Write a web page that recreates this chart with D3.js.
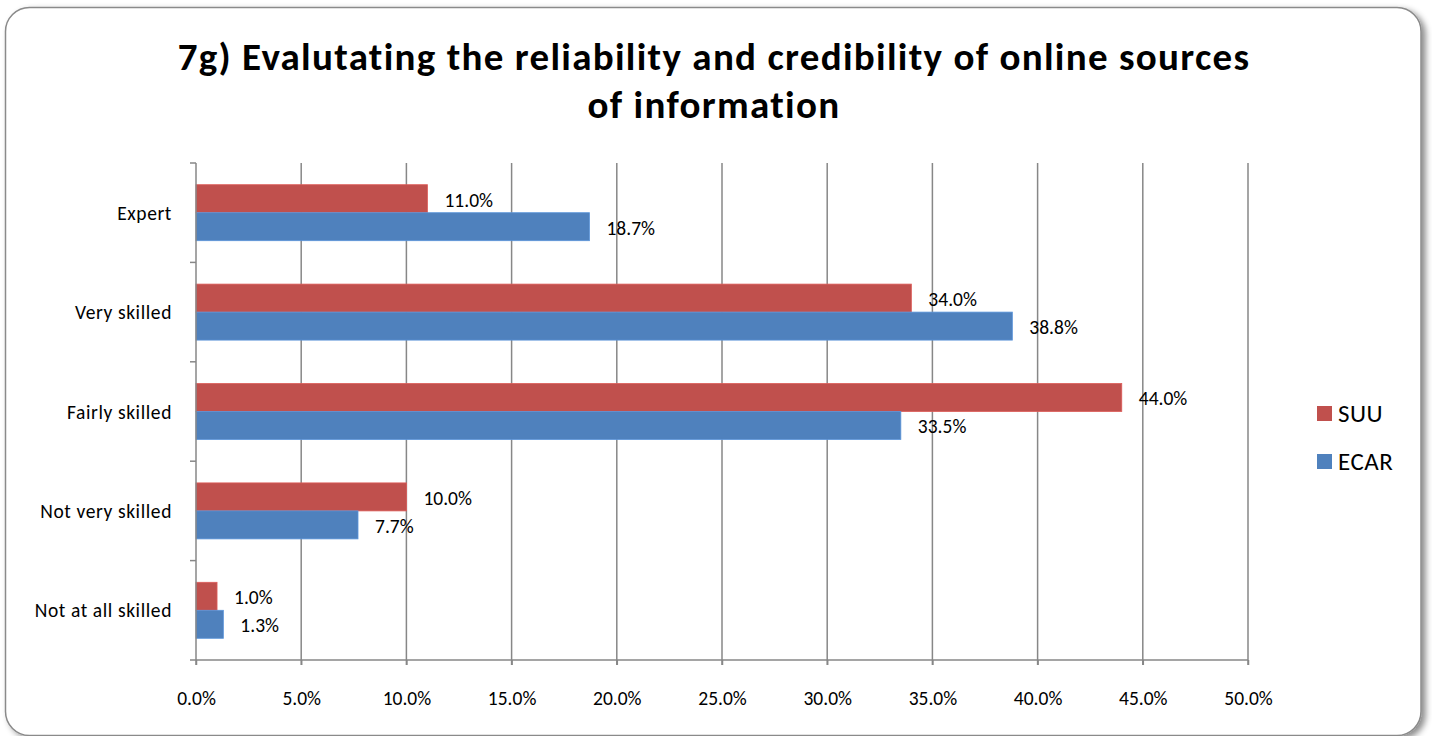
<!DOCTYPE html>
<html>
<head>
<meta charset="utf-8">
<script src="https://cdn.jsdelivr.net/npm/d3@7"></script>
<style>
  body { margin: 0; background: #fff; }
  text { font-family: Carlito, Calibri, Lato, "Open Sans", sans-serif; fill: #000; }
</style>
</head>
<body>
<svg id="chart" width="1432" height="736"></svg>
<script>
let categories = ['Expert', 'Very skilled', 'Fairly skilled', 'Not very skilled', 'Not at all skilled'];
let series_names = ['SUU', 'ECAR'];
let suu_values = [11.0, 34.0, 44.0, 10.0, 1.0];
let ecar_values = [18.7, 38.8, 33.5, 7.7, 1.3];
let x_ticks = [0, 5, 10, 15, 20, 25, 30, 35, 40, 45, 50];
let title_lines = ['7g) Evalutating the reliability and credibility of online sources', 'of information'];

let colors = ['#c0504d', '#4f81bd'];
let grid_color = '#878787';
let plot = {left: 196, right: 1248, top: 163, bottom: 660};
let label_font = 19.5;

let svg = d3.select('#chart');

// frame with shadow
let defs = svg.append('defs');
let shadow = defs.append('filter').attr('id', 'shadow')
	.attr('x', '-5%').attr('y', '-5%').attr('width', '110%').attr('height', '110%');
shadow.append('feDropShadow')
	.attr('dx', 4).attr('dy', 3).attr('stdDeviation', 3)
	.attr('flood-color', '#000').attr('flood-opacity', 0.45);

svg.append('rect')
	.attr('x', 5.5).attr('y', 7.5)
	.attr('width', 1415.5).attr('height', 728)
	.attr('rx', 24).attr('ry', 24)
	.attr('fill', '#fff')
	.attr('stroke', '#8a8a8a')
	.attr('stroke-width', 1.5)
	.attr('filter', 'url(#shadow)');

// title
svg.append('text')
	.attr('text-anchor', 'middle')
	.attr('font-size', 39)
	.attr('font-weight', 'bold')
	.attr('letter-spacing', 1.3)
	.selectAll('tspan')
	.data(title_lines)
	.enter().append('tspan')
	.attr('x', 714)
	.attr('y', (d, i) => 70 + i * 48)
	.text(d => d);

let x = d3.scaleLinear()
	.domain([0, 50])
	.range([plot.left, plot.right]);

let y = d3.scaleBand()
	.domain(categories)
	.range([plot.top, plot.bottom])
	.paddingInner(0)
	.paddingOuter(0);

let inner = d3.scaleBand()
	.domain(series_names)
	.range([0, y.bandwidth()])
	.paddingInner(0)
	.paddingOuter(0.775);

// gridlines
svg.append('g')
	.selectAll('line')
	.data(x_ticks.slice(1))
	.enter().append('line')
	.attr('x1', d => x(d)).attr('x2', d => x(d))
	.attr('y1', plot.top).attr('y2', plot.bottom + 5)
	.attr('stroke', grid_color)
	.attr('stroke-width', 1.5);

// bars
let rows = categories.map((c, i) => ({cat: c, vals: [suu_values[i], ecar_values[i]]}));

let groups = svg.append('g')
	.selectAll('g')
	.data(rows)
	.enter().append('g')
	.attr('transform', d => `translate(0, ${y(d.cat)})`);

groups.selectAll('rect')
	.data(d => d.vals.map((v, j) => ({name: series_names[j], value: v, j: j})))
	.enter().append('rect')
	.attr('x', x(0))
	.attr('y', d => inner(d.name))
	.attr('width', d => x(d.value) - x(0))
	.attr('height', inner.bandwidth())
	.attr('fill', d => colors[d.j])
	.attr('stroke', d => d3.color(colors[d.j]).brighter(0.4))
	.attr('stroke-width', 0.8);

groups.selectAll('.value-label')
	.data(d => d.vals.map((v, j) => ({name: series_names[j], value: v, j: j})))
	.enter().append('text')
	.attr('class', 'value-label')
	.attr('x', d => x(d.value) + 17)
	.attr('y', d => inner(d.name) + inner.bandwidth() / 2 + 8)
	.attr('font-size', label_font)
	.text(d => d.value.toFixed(1) + '%');

// x axis
let x_axis = svg.append('g')
	.attr('transform', `translate(0, ${plot.bottom})`)
	.call(d3.axisBottom(x).tickValues(x_ticks).tickSize(5).tickFormat(d => d.toFixed(1) + '%'));
x_axis.select('.domain').attr('stroke', grid_color).attr('stroke-width', 1.5)
	.attr('d', `M${plot.left},0H${plot.right}`);
x_axis.selectAll('.tick line').attr('stroke', grid_color).attr('stroke-width', 1.5);
x_axis.selectAll('.tick text')
	.attr('font-size', label_font)
	.attr('font-family', 'Carlito, Calibri, Lato, "Open Sans", sans-serif')
	.attr('fill', '#000')
	.attr('dy', 0)
	.attr('y', 45);

// y axis
let y_axis = svg.append('g')
	.attr('transform', `translate(${plot.left}, 0)`);
y_axis.append('line')
	.attr('x1', 0).attr('x2', 0)
	.attr('y1', plot.top).attr('y2', plot.bottom + 5)
	.attr('stroke', grid_color).attr('stroke-width', 1.5);
y_axis.selectAll('.ytick')
	.data(d3.range(categories.length + 1))
	.enter().append('line')
	.attr('x1', -6).attr('x2', 0)
	.attr('y1', i => plot.top + i * y.step())
	.attr('y2', i => plot.top + i * y.step())
	.attr('stroke', grid_color).attr('stroke-width', 1.5);
y_axis.selectAll('.ylabel')
	.data(categories)
	.enter().append('text')
	.attr('x', -24)
	.attr('y', d => y(d) + y.bandwidth() / 2 + 7)
	.attr('text-anchor', 'end')
	.attr('font-size', label_font)
	.attr('letter-spacing', 0.6)
	.text(d => d);

// legend
let legend = svg.append('g')
	.selectAll('g')
	.data(series_names)
	.enter().append('g')
	.attr('transform', (d, i) => `translate(1317, ${406 + i * 48})`);
legend.append('rect')
	.attr('width', 15).attr('height', 15)
	.attr('fill', (d, i) => colors[i]);
legend.append('text')
	.attr('x', 21).attr('y', 16)
	.attr('font-size', 25)
	.attr('letter-spacing', 0.5)
	.text(d => d);
</script>
</body>
</html>
